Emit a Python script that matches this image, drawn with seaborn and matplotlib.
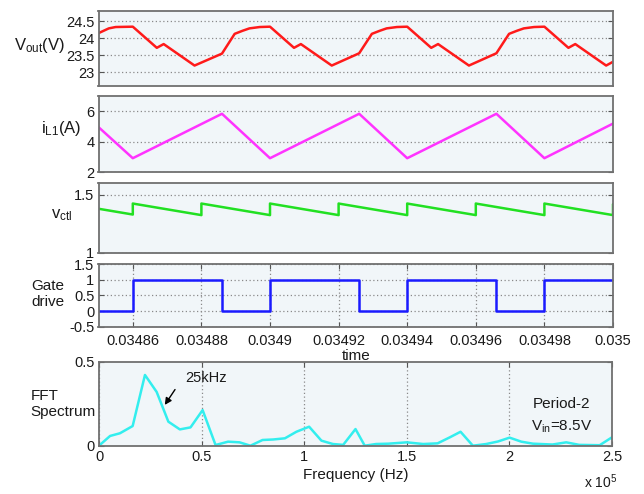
import numpy as np
import pandas as pd
import matplotlib
matplotlib.use("Agg")
import matplotlib.pyplot as plt
import seaborn as sns

# ---------------- data ----------------
vout_t = [0.034850, 0.034853, 0.034855, 0.034860,
          0.034867, 0.034869, 0.034878, 0.034886, 0.0348897, 0.034892, 0.034894, 0.034897, 0.034900,
          0.034907, 0.034909, 0.034918, 0.034926, 0.0349297, 0.034932, 0.034934, 0.034937, 0.034940,
          0.034947, 0.034949, 0.034958, 0.034966, 0.0349697, 0.034972, 0.034974, 0.034977, 0.034980,
          0.034987, 0.034989, 0.034998, 0.035000]
vout_v = [24.15, 24.29, 24.33, 24.34,
          23.72, 23.83, 23.20, 23.55, 24.13, 24.22, 24.29, 24.33, 24.34,
          23.72, 23.83, 23.20, 23.56, 24.13, 24.22, 24.29, 24.33, 24.34,
          23.72, 23.83, 23.20, 23.56, 24.13, 24.22, 24.29, 24.33, 24.34,
          23.72, 23.83, 23.20, 23.31]

il_t = [0.03485, 0.03486, 0.034886, 0.03490, 0.034926, 0.03494, 0.034966, 0.03498, 0.03500]
il_v = [4.95, 2.92, 5.82, 2.92, 5.82, 2.92, 5.82, 2.92, 5.18]

vc_t = [0.03485, 0.03486, 0.03486, 0.03488, 0.03488, 0.03490, 0.03490, 0.03492, 0.03492,
        0.03494, 0.03494, 0.03496, 0.03496, 0.03498, 0.03498, 0.03500, 0.03500]
vc_v = [1.38, 1.33, 1.425, 1.325, 1.425, 1.325, 1.425, 1.325, 1.425,
        1.325, 1.425, 1.325, 1.425, 1.325, 1.425, 1.325, 1.42]

gate_t = [0.03485, 0.03486, 0.034886, 0.03490, 0.034926, 0.03494, 0.034966, 0.03498, 0.03500]
gate_v = [0, 1, 0, 1, 0, 1, 0, 1, 1]

fft_f = [0, 5.4, 10.2, 16.4, 22.4, 28.1, 33.8, 39.4, 44.6, 50.5, 56.8, 62.9, 68.5, 73.8,
         79.7, 84.9, 90.6, 96.2, 102.4, 108.4, 114, 119, 125, 129.5, 135, 141, 150, 158,
         165, 171, 176.2, 182.2, 188.7, 194.4, 200.1, 205.8, 211.5, 221, 227.7, 234, 244, 250]
fft_a = [0, 0.058, 0.074, 0.117, 0.421, 0.32, 0.143, 0.097, 0.109, 0.212, 0.004, 0.024, 0.02, 0.0,
         0.034, 0.037, 0.044, 0.083, 0.113, 0.03, 0.01, 0.005, 0.099, 0.0, 0.01, 0.012, 0.02, 0.01,
         0.014, 0.05, 0.083, 0.0, 0.01, 0.025, 0.048, 0.024, 0.012, 0.007, 0.02, 0.005, 0.003, 0.05]

vout_ticks = [23, 23.5, 24, 24.5]
vout_labels = ["23", "23.5", "24", "24.5"]
il_ticks = [2, 4, 6]
il_labels = ["2", "4", "6"]
vc_ticks = [1, 1.5]
vc_labels = ["1", "1.5"]
gate_ticks = [-0.5, 0, 0.5, 1, 1.5]
gate_labels = ["-0.5", "0", "0.5", "1", "1.5"]
time_ticks = [0.03486, 0.03488, 0.03490, 0.03492, 0.03494, 0.03496, 0.03498, 0.03500]
time_labels = ["0.03486", "0.03488", "0.0349", "0.03492", "0.03494", "0.03496", "0.03498", "0.035"]
freq_ticks = [0, 50, 100, 150, 200, 250]
freq_labels = ["0", "0.5", "1", "1.5", "2", "2.5"]
fft_yticks = [0, 0.5]
fft_ylabels = ["0", "0.5"]

# ---------------- style ----------------
sns.set_theme(style="ticks")
plt.rcParams["font.family"] = ["Liberation Sans", "DejaVu Sans"]
plt.rcParams["mathtext.default"] = "regular"

W, H = 644, 494
fig = plt.figure(figsize=(W / 100, H / 100), dpi=100)
fig.patch.set_facecolor("white")

def add(top, bottom, left=98.5, right=613):
    return fig.add_axes([left / W, 1 - bottom / H, (right - left) / W, (bottom - top) / H])

BG = "#f1f6f9"
GRID = dict(ls=(0, (1, 2)), color="#8a8a8a", lw=0.9)
TXT = "#1a1a1a"

def style(ax):
    ax.set_facecolor(BG)
    for s in ax.spines.values():
        s.set_color("#707070")
        s.set_linewidth(1.3)
    ax.tick_params(direction="in", length=3.5, width=0.8, top=True, right=True,
                   labelsize=10.5, labelcolor=TXT, color="#555555", pad=3)
    ax.set_axisbelow(True)

def lp(ax, x, y, color, **kw):
    sns.lineplot(x=x, y=y, ax=ax, color=color, lw=1.8, sort=False, estimator=None,
                 legend=False, **kw)

tlim = (0.03485, 0.03500)

# Panel 1: Vout
ax1 = add(11, 86)
lp(ax1, vout_t, vout_v, "#ff1a1a")
ax1.set_xlim(*tlim); ax1.set_ylim(22.6, 24.8)
ax1.set_xticks([])
ax1.set_yticks(vout_ticks); ax1.set_yticklabels(vout_labels)
style(ax1); ax1.yaxis.grid(True, **GRID)
ax1.set_ylabel("V$_{out}$(V)", rotation=0, fontsize=12, color=TXT, ha="center", va="center")
ax1.yaxis.set_label_coords(-0.114, 0.54)

# Panel 2: iL1
ax2 = add(95.7, 172.3)
lp(ax2, il_t, il_v, "#ff33ff")
ax2.set_xlim(*tlim); ax2.set_ylim(2, 7)
ax2.set_xticks([])
ax2.set_yticks(il_ticks); ax2.set_yticklabels(il_labels)
style(ax2); ax2.yaxis.grid(True, **GRID)
ax2.set_ylabel("i$_{L1}$(A)", rotation=0, fontsize=12, color=TXT, ha="center", va="center")
ax2.yaxis.set_label_coords(-0.073, 0.57)

# Panel 3: vctl
ax3 = add(183.3, 252.7)
lp(ax3, vc_t, vc_v, "#22e022")
ax3.set_xlim(*tlim); ax3.set_ylim(1, 1.6)
ax3.set_xticks([])
ax3.set_yticks(vc_ticks); ax3.set_yticklabels(vc_labels)
style(ax3); ax3.yaxis.grid(True, **GRID)
ax3.set_ylabel("v$_{ctl}$", rotation=0, fontsize=12, color=TXT, ha="center", va="center")
ax3.yaxis.set_label_coords(-0.072, 0.54)

# Panel 4: gate drive
ax4 = add(264.3, 326.7)
lp(ax4, gate_t, gate_v, "#1a1aff", drawstyle="steps-post")
ax4.set_xlim(*tlim); ax4.set_ylim(-0.5, 1.5)
ax4.set_xticks(time_ticks); ax4.set_xticklabels(time_labels)
ax4.set_yticks(gate_ticks); ax4.set_yticklabels(gate_labels)
style(ax4); ax4.grid(True, **GRID)
ax4.tick_params(axis="x", pad=5)
ax4.set_ylabel("Gate\ndrive", rotation=0, fontsize=11, color=TXT, ha="center", va="center",
               multialignment="left")
ax4.yaxis.set_label_coords(-0.098, 0.53)
ax4.set_xlabel("time", fontsize=11, color=TXT)
ax4.xaxis.set_label_coords(0.5, -0.36)

# Panel 5: FFT
ax5 = add(361.7, 445.7, left=99, right=612)
lp(ax5, fft_f, fft_a, "#33eeee")
ax5.set_xlim(0, 250); ax5.set_ylim(0, 0.5)
ax5.set_xticks(freq_ticks); ax5.set_xticklabels(freq_labels)
ax5.set_yticks(fft_yticks); ax5.set_yticklabels(fft_ylabels)
style(ax5); ax5.xaxis.grid(True, **GRID)
ax5.set_ylabel("FFT\nSpectrum", rotation=0, fontsize=11, color=TXT, ha="center", va="center",
               multialignment="left")
ax5.yaxis.set_label_coords(-0.07, 0.5)
ax5.set_xlabel("Frequency (Hz)", fontsize=11, color=TXT)
ax5.xaxis.set_label_coords(0.5, -0.27)

ax5.annotate("", xy=(31.3, 0.229), xytext=(37.8, 0.348),
             arrowprops=dict(arrowstyle="-|>", color="black", lw=1.0, mutation_scale=10))
ax5.text(41.9, 0.40, "25kHz", fontsize=10.5, color=TXT, ha="left", va="center")
ax5.text(225.5, 0.248, "Period-2", fontsize=11, color=TXT, ha="center", va="center")
ax5.text(225.5, 0.11, "V$_{in}$=8.5V", fontsize=11, color=TXT, ha="center", va="center")

fig.text(617 / W, 1 - 482 / H, "x 10$^{5}$", fontsize=10, color=TXT, ha="right", va="center")

fig.savefig("out.png", dpi=100, facecolor="white")
